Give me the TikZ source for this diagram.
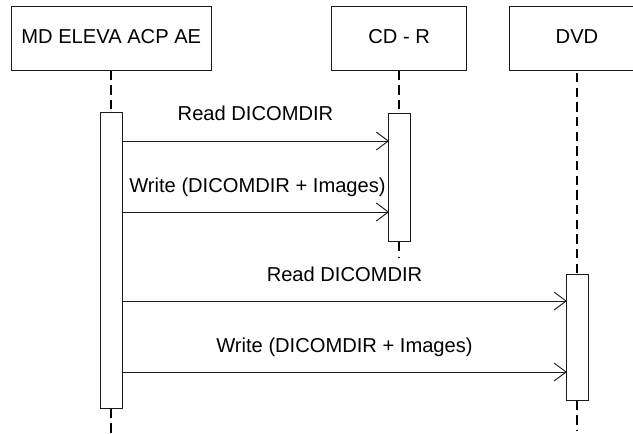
\documentclass[tikz,border=0pt]{standalone}
\usepackage{fontspec}
\setmainfont{Liberation Sans}
\usetikzlibrary{arrows.meta}
\definecolor{linecol}{HTML}{1A1A1A}
\tikzset{
  x=0.75pt,y=-0.75pt,
  head/.style={draw=linecol,line width=0.75pt,fill=white,minimum height=48pt,inner sep=0pt},
  act/.style={draw=linecol,line width=0.75pt,fill=white,minimum width=16.5pt,inner sep=0pt},
  life/.style={draw=black,line width=1.35pt,dash pattern=on 7pt off 4pt},
  msg/.style={draw=linecol,line width=0.75pt,-{Straight Barb[length=9pt,width=13.5pt,line width=0.7pt]},shorten >=-1pt},
  lab/.style={inner sep=0pt,font=\fontsize{15.1}{18}\selectfont,anchor=base}
}
\begin{document}
\begin{tikzpicture}
\useasboundingbox (0,0) rectangle (633,433);
\clip (0,0) rectangle (633,433);
\node[head,minimum width=150.4pt] (h1) at (111.3,38) {};
\node[head,minimum width=101.6pt] (h2) at (399.2,38) {};
\node[head,minimum width=101.6pt] (h3) at (577,38) {};
\node[lab] (t1) at (111.3,43.5) {MD ELEVA ACP AE};
\node[lab] (t2) at (399.2,43.5) {CD - R};
\node[lab] (t3) at (577,43.5) {DVD};
\coordinate (e1) at (111.3,433);
\coordinate (e2) at (399.2,258);
\coordinate (s3) at (577,73);
\coordinate (e3) at (577,431);
\node[act,minimum height=221.5pt] (a1) at (111.3,260.5) {};
\node[act,minimum height=96pt] (a2) at (399.2,177.5) {};
\node[act,minimum height=93.8pt] (a3) at (577,337.5) {};
\draw[life] (h1.south) -- (a1.north);
\draw[life] (a1.south) -- (e1);
\draw[life] (h2.south) -- (a2.north);
\draw[life] (a2.south) -- (e2);
\draw[life] (s3) -- (a3.north);
\draw[life] (a3.south) -- (e3);
\draw[msg] (a1.east |- 0,141) -- (a2.west |- 0,141);
\draw[msg] (a1.east |- 0,212) -- (a2.west |- 0,212);
\draw[msg] (a1.east |- 0,301) -- (a3.west |- 0,301);
\draw[msg] (a1.east |- 0,372) -- (a3.west |- 0,372);
\node[lab] (m1) at (255.5,120.3) {Read DICOMDIR};
\node[lab] (m2) at (257.5,192.7) {Write (DICOMDIR + Images)};
\node[lab] (m3) at (344.5,281.5) {Read DICOMDIR};
\node[lab] (m4) at (344.5,352) {Write (DICOMDIR + Images)};
\end{tikzpicture}
\end{document}
